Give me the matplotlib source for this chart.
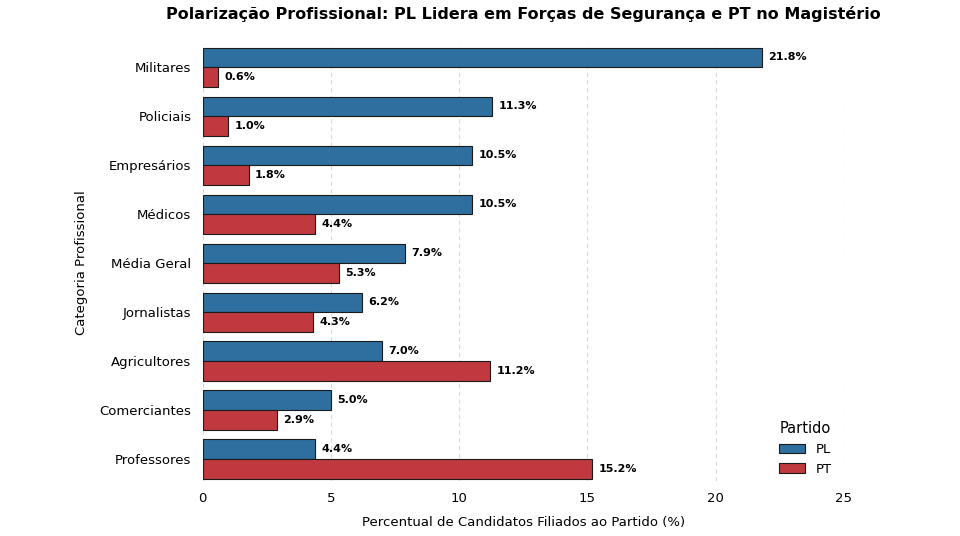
import matplotlib
matplotlib.use("Agg")
import matplotlib.pyplot as plt
import numpy as np

categories = ["Militares", "Policiais", "Empresários", "Médicos", "Média Geral",
              "Jornalistas", "Agricultores", "Comerciantes", "Professores"]
pl_values = [21.8, 11.3, 10.5, 10.5, 7.9, 6.2, 7.0, 5.0, 4.4]
pt_values = [0.6, 1.0, 1.8, 4.4, 5.3, 4.3, 11.2, 2.9, 15.2]
xticks = [0, 5, 10, 15, 20, 25]

plt.rcParams['font.family'] = ['DejaVu Sans']
fig = plt.figure(figsize=(9.6, 5.36), dpi=100)
ax = fig.add_axes([0.211, 0.1026, 0.668, 0.813])

y = np.arange(len(categories))
h = 0.4
c_pl = "#2f6f9f"
c_pt = "#c0393f"
ax.barh(y - h/2, pl_values, height=h, color=c_pl, edgecolor="#1a1a1a", linewidth=0.8, label="PL", zorder=3)
ax.barh(y + h/2, pt_values, height=h, color=c_pt, edgecolor="#1a1a1a", linewidth=0.8, label="PT", zorder=3)

for yi, v in zip(y, pl_values):
    ax.text(v + 0.25, yi - h/2, f"{v:.1f}%", va="center", ha="left", fontsize=8, fontweight="bold")
for yi, v in zip(y, pt_values):
    ax.text(v + 0.25, yi + h/2, f"{v:.1f}%", va="center", ha="left", fontsize=8, fontweight="bold")

ax.set_yticks(y)
ax.set_yticklabels(categories, fontsize=9.5)
ax.set_xlim(0, 25)
ax.set_ylim(len(categories) - 0.55, -0.45)
ax.set_xticks(xticks)
ax.tick_params(axis='x', labelsize=9.5, length=0, pad=8)
ax.tick_params(axis='y', length=0, pad=8)
ax.grid(axis='x', linestyle=(0, (4, 3)), color='#d9d9d9', linewidth=0.8, zorder=0)
ax.grid(axis='y', visible=False)
for s in ax.spines.values():
    s.set_visible(False)

ax.set_xlabel("Percentual de Candidatos Filiados ao Partido (%)", fontsize=9.5, labelpad=8)
ax.set_ylabel("Categoria Profissional", fontsize=9.5, labelpad=8)
ax.set_title("Polarização Profissional: PL Lidera em Forças de Segurança e PT no Magistério",
             fontsize=11.5, fontweight="bold", pad=19)

leg = ax.legend(title="Partido", loc="lower right", frameon=False, fontsize=9.5, title_fontsize=10.5,
                bbox_to_anchor=(1.0, -0.015))

fig.savefig("out.png", dpi=100)
